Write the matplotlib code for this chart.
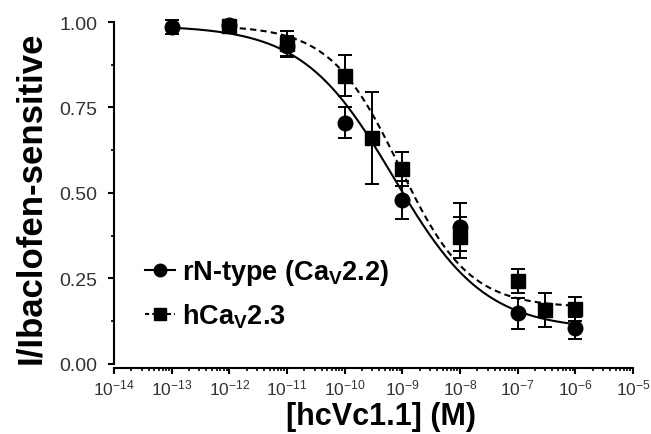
import numpy as np
import matplotlib
matplotlib.use("Agg")
import matplotlib.pyplot as plt
from matplotlib.ticker import FixedLocator, NullFormatter

plt.rcParams['font.family'] = ['Liberation Sans', 'DejaVu Sans']
plt.rcParams['mathtext.fontset'] = 'custom'
plt.rcParams['mathtext.rm'] = 'Liberation Sans'
plt.rcParams['mathtext.bf'] = 'Liberation Sans:bold'
plt.rcParams['mathtext.it'] = 'Liberation Sans:italic'

# ---- data ----
n_conc = [1e-13, 1e-12, 1e-11, 1e-10, 1e-9, 1e-8, 1e-7, 1e-6]
n_mean = [0.985, 0.99, 0.93, 0.705, 0.48, 0.40, 0.148, 0.105]
n_err = [0.02, 0.01, 0.03, 0.045, 0.055, 0.07, 0.045, 0.033]

r_conc = [1e-12, 1e-11, 1e-10, 3e-10, 1e-9, 1e-8, 1e-7, 3e-7, 1e-6]
r_mean = [0.988, 0.937, 0.843, 0.66, 0.57, 0.37, 0.242, 0.158, 0.16]
r_err = [0.01, 0.038, 0.06, 0.135, 0.05, 0.06, 0.036, 0.05, 0.035]

# Hill fit parameters (top, bottom, logIC50, hill slope)
n_fit = (0.99, 0.10, -9.15, 0.55)
r_fit = (0.99, 0.165, -9.05, 0.72)
n_fit_range = (-13, -6)
r_fit_range = (-12, -6)

xtick_exps = list(range(-14, -4))
ytick_vals = [0.00, 0.25, 0.50, 0.75, 1.00]

labels = [r'rN-type (Ca$_{\mathbf{V}}$2.2)', r'hCa$_{\mathbf{V}}$2.3']


def hill(logx, p):
    top, bottom, logic50, h = p
    return bottom + (top - bottom) / (1 + 10 ** ((logx - logic50) * h))


fig = plt.figure(figsize=(6.51, 4.35), dpi=100)
ax = fig.add_axes([114 / 651, 1 - 369 / 435, (633 - 114) / 651, (369 - 23) / 435])

ax.set_xscale('log')
ax.set_xlim(1e-14, 1e-5)
ax.set_ylim(-0.012, 1.0)

lx = np.linspace(*n_fit_range, 300)
ax.plot(10 ** lx, hill(lx, n_fit), color='black', lw=1.5, zorder=2)
lx2 = np.linspace(*r_fit_range, 300)
ax.plot(10 ** lx2, hill(lx2, r_fit), color='black', lw=1.5, ls=(0, (3, 2)),
        zorder=2)

ekw = dict(ecolor='black', elinewidth=1.4, capsize=4.8, capthick=1.4,
           ls='none', clip_on=False, zorder=3)
ax.errorbar(r_conc, r_mean, yerr=r_err, marker='s', ms=9.5, mfc='black',
            mec='black', **ekw)
ax.errorbar(n_conc, n_mean, yerr=n_err, marker='o', ms=10.5, mfc='black',
            mec='black', **ekw)

# legend handles
h1, = ax.plot([], [], color='black', lw=1.5, marker='o', ms=9)
h2, = ax.plot([], [], color='black', lw=1.5, ls=(0, (2, 1.5)), marker='s', ms=8)
leg = ax.legend([h1, h2], labels, loc='upper left',
                bbox_to_anchor=(145 / 651, 1 - 258 / 435),
                bbox_transform=fig.transFigure,
                frameon=False, prop={'weight': 'bold', 'size': 19.5},
                handlelength=1.1, handletextpad=0.25, labelspacing=0.55,
                borderaxespad=0, borderpad=0)

# axes styling
for s in ['top', 'right']:
    ax.spines[s].set_visible(False)
for s in ['left', 'bottom']:
    ax.spines[s].set_linewidth(1.5)
ax.spines['left'].set_bounds(0, 1.0)

ax.xaxis.set_major_locator(FixedLocator([10.0 ** e for e in xtick_exps]))
ax.set_xticklabels([r'$\mathregular{10^{%d}}$' % e for e in xtick_exps])
minors = [m * 10.0 ** e for e in xtick_exps[:-1] for m in range(2, 10)]
ax.xaxis.set_minor_locator(FixedLocator(minors))
ax.xaxis.set_minor_formatter(NullFormatter())

ax.set_yticks(ytick_vals)
ax.set_yticklabels(['%.2f' % v for v in ytick_vals])
ax.yaxis.set_minor_locator(FixedLocator([0.125, 0.375, 0.625, 0.875]))

ax.tick_params(axis='both', which='major', direction='out', width=1.5,
               length=4, colors='black', labelcolor='#333333')
ax.tick_params(axis='both', which='minor', direction='out', width=1.2,
               length=2.5)
ax.tick_params(axis='x', which='major', pad=3, labelsize=12.5)
ax.tick_params(axis='y', which='major', pad=8, labelsize=14)

ax.set_xlabel('[hcVc1.1] (M)', fontsize=22, fontweight='bold')
ax.xaxis.set_label_coords(0.514, -0.095)
ax.set_ylabel('I/Ibaclofen-sensitive', fontsize=25, fontweight='bold')
ax.yaxis.set_label_coords(-0.129, 0.494)

fig.savefig('out.png', dpi=100)
